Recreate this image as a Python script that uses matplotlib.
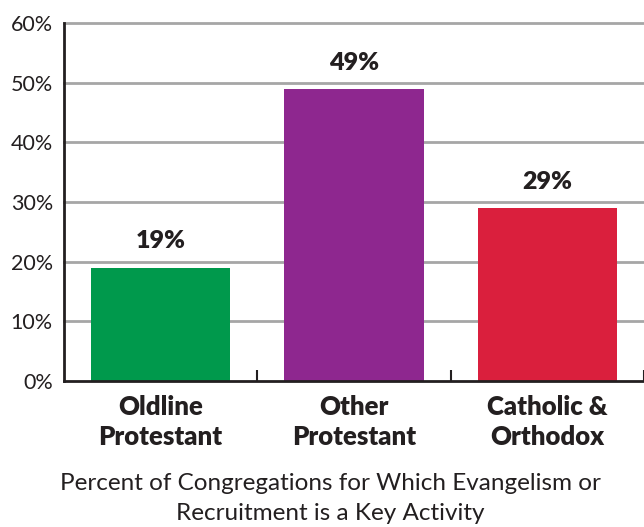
import matplotlib.pyplot as plt
from matplotlib.ticker import FixedLocator

categories = ["Oldline\nProtestant", "Other\nProtestant", "Catholic &\nOrthodox"]
values = [19, 49, 29]
colors = ["#00994c", "#8e278f", "#da1f3d"]
yticks = [0, 10, 20, 30, 40, 50, 60]

plt.rcParams["font.family"] = ["Lato", "DejaVu Sans"]

fig = plt.figure(figsize=(6.44, 5.27), dpi=100)
ax = fig.add_axes([0.0994, 0.277, 0.9006, 0.679])

x = range(len(categories))
bars = ax.bar(x, values, width=0.72, color=colors, zorder=3)

for xi, v in zip(x, values):
    ax.annotate(f"{v}%", (xi, v), xytext=(0, 11), textcoords="offset points",
                ha="center", va="bottom", fontsize=18, fontweight="heavy",
                color="#231f20")

ax.set_xlim(-0.5, len(categories) - 0.5)
ax.set_ylim(0, 60)
ax.set_yticks(yticks)
ax.set_yticklabels([f"{t}%" for t in yticks], fontsize=15.5, color="#231f20")
ax.set_xticks(list(x))
ax.set_xticklabels(categories, fontsize=18.5, fontweight="heavy", color="#231f20",
                   linespacing=1.3)
ax.tick_params(axis="x", length=0, pad=10)
ax.tick_params(axis="y", length=0, pad=8)

# small upward ticks at the category boundaries
ax.xaxis.set_minor_locator(FixedLocator([0.5, 1.5, 2.5]))
ax.tick_params(axis="x", which="minor", direction="in", length=8, width=1.5,
               color="#231f20")

for t in yticks[1:]:
    ax.axhline(t, color="#a6a6a6", linewidth=2, zorder=1, clip_on=False)

for side in ["top", "right"]:
    ax.spines[side].set_visible(False)
for side in ["left", "bottom"]:
    ax.spines[side].set_linewidth(2)
    ax.spines[side].set_color("#231f20")
    ax.spines[side].set_zorder(4)

fig.text(0.513, 0.054, "Percent of Congregations for Which Evangelism or\nRecruitment is a Key Activity",
         ha="center", va="center", fontsize=17.5, color="#231f20", linespacing=1.55)

fig.savefig("out.png", dpi=100)
